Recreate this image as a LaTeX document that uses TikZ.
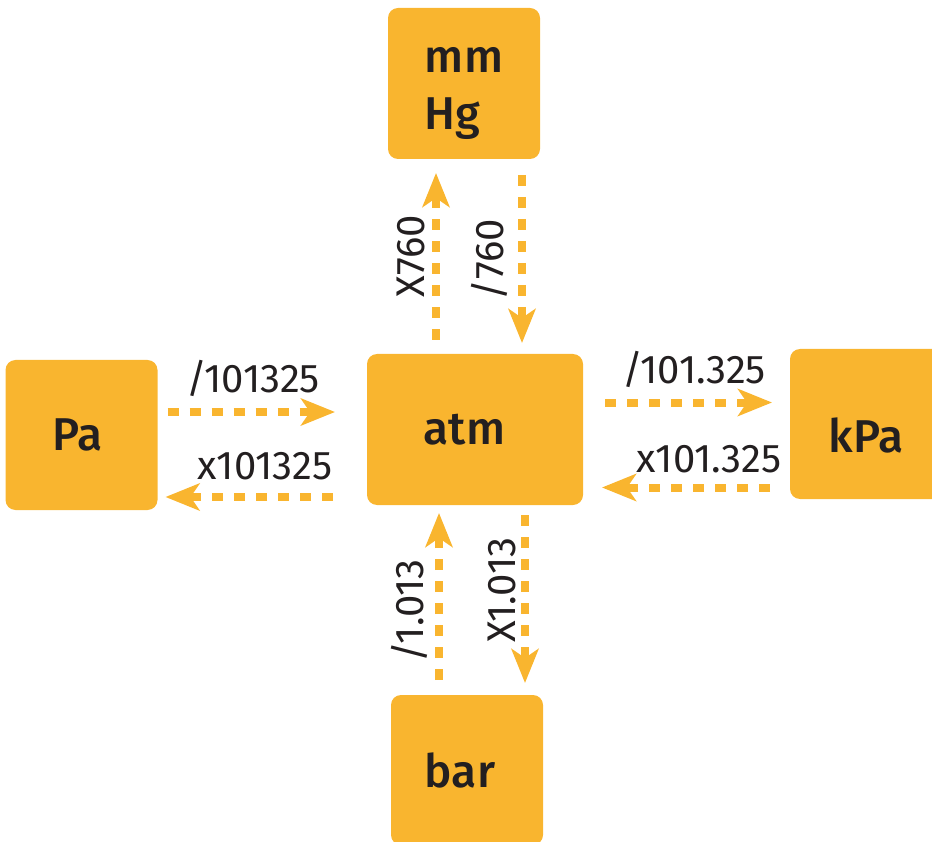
\documentclass[tikz,border=0pt]{standalone}
\usepackage{fontspec}
\setmainfont{Fira Sans}
\newfontfamily\unitfont{Fira Sans Medium}
\usetikzlibrary{arrows.meta}
\definecolor{unitorange}{RGB}{249,181,47}
\definecolor{ink}{RGB}{35,31,32}

\begin{document}
\begin{tikzpicture}[x=1pt,y=-1pt,
  unit/.style={fill=unitorange, rounded corners=10pt, inner sep=0pt, outer sep=0pt,
    minimum width=152pt, minimum height=150pt, text=ink, align=left,
    font=\unitfont\fontsize{46}{57}\selectfont},
  conv/.style={unitorange, line width=8pt, dash pattern=on 11pt off 11pt,
    -{Stealth[length=34pt,width=27pt,inset=9pt]}},
  factor/.style={text=ink, anchor=base, inner sep=0pt, font=\fontsize{40}{44}\selectfont}]
\useasboundingbox (0,0) rectangle (932,842);

% units
\node[unit, minimum height=151pt] (mmhg) at (464,83.5) {\rule{0pt}{46pt}mm\\Hg};
\node[unit] (pa) at (81.5,435) {\hspace*{-8pt}Pa};
\node[unit, minimum width=216pt, minimum height=151pt] (atm) at (475,429.5) {\hspace*{-21pt}atm};
\node[unit, text height=56pt, text depth=0pt] (kpa) at (866,424) {kPa};
\node[unit] (bar) at (467,770) {\hspace*{-14pt}bar};

% atm <-> mm Hg
\draw[conv, shorten <=14pt, shorten >=14pt] ([xshift=-39pt]atm.north) -- ([xshift=-39pt]atm.north |- mmhg.south);
\draw[conv, shorten <=16pt, shorten >=11pt] ([xshift=47pt]atm.north |- mmhg.south) -- ([xshift=47pt]atm.north);

% Pa <-> atm
\draw[conv, shorten <=10pt, shorten >=32pt] ([yshift=23pt]pa.east) -- ([yshift=23pt]pa.east -| atm.west);
\draw[conv, shorten <=34pt, shorten >=8pt] ([yshift=-62pt]pa.east -| atm.west) -- ([yshift=-62pt]pa.east);

% atm <-> kPa
\draw[conv, shorten <=22pt, shorten >=18pt] ([yshift=27pt]atm.east) -- ([yshift=27pt]atm.east -| kpa.west);
\draw[conv, shorten <=20pt, shorten >=19pt] ([yshift=-58pt]atm.east -| kpa.west) -- ([yshift=-58pt]atm.east);

% atm <-> bar
\draw[conv, shorten <=15pt, shorten >=8pt] ([xshift=-36pt]atm.south |- bar.north) -- ([xshift=-36pt]atm.south);
\draw[conv, shorten <=10pt, shorten >=12pt] ([xshift=50pt]atm.south) -- ([xshift=50pt]atm.south |- bar.north);

% factors
\node[factor] (divpa) at (253,392) {/101325};
\node[factor] (mulpa) at (265,479) {x101325};
\node[factor] (divkpa) at (694,384) {/101.325};
\node[factor] (mulkpa) at (709,472) {x101.325};
\node[factor, rotate=90] (mulhg) at (424,256) {X760};
\node[factor, rotate=90] (divhg) at (503,260) {/760};
\node[factor, rotate=90] (divbar) at (423,611) {/1.013};
\node[factor, rotate=90] (mulbar) at (515,590) {X1.013};
\end{tikzpicture}
\end{document}
